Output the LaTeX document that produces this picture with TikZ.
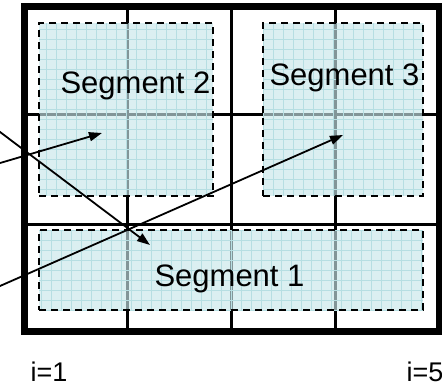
\documentclass[tikz,border=0pt]{standalone}
\usepackage{fontspec}
\setmainfont{Liberation Sans}
\usetikzlibrary{arrows.meta, positioning}
\definecolor{segfill}{RGB}{200, 230, 234}
\definecolor{segmesh}{RGB}{182, 222, 226}

\tikzset{
  frameline/.style={draw=black, line width=7pt},
  cellline/.style={draw=black, line width=3pt},
  meshline/.style={draw=segmesh, solid, line width=0.7pt},
  segbox/.style={draw=black, line width=2.2pt, dash pattern=on 7pt off 5pt, fill=segfill, fill opacity=0.65, inner sep=0pt,
    path picture={\draw[meshline] (path picture bounding box.north west) grid[step=10pt] (path picture bounding box.south east);}},
  seglabel/.style={font=\fontsize{31}{36}\selectfont, anchor=base},
  ilabel/.style={font=\fontsize{27}{32}\selectfont, anchor=base west},
  pointer/.style={-{Triangle[length=13pt, width=9pt]}, line width=1.8pt}
}

\begin{document}
\begin{tikzpicture}[x=1pt, y=-1pt]
  \useasboundingbox (0,0) rectangle (442,386);
  \clip (0,0) rectangle (442,386);

  % --- inner cell lines ---
  \foreach \cx in {127, 231, 335}
    \draw[cellline] (\cx, 6) -- (\cx, 331);
  \foreach \cy in {114, 224}
    \draw[cellline] (24, \cy) -- (439, \cy);

  % --- segments ---
  \node[segbox, minimum width=174pt, minimum height=173pt] (seg2) at (126, 109.5) {};
  \node[segbox, minimum width=160pt, minimum height=173pt] (seg3) at (343, 109.5) {};
  \node[segbox, minimum width=384pt, minimum height=80pt] (seg1) at (231, 270) {};

  % --- outer frame ---
  \node[frameline, minimum width=415pt, minimum height=325pt] (board) at (231.5, 168.5) {};

  % --- labels ---
  \node[seglabel] (lab2) at (135.5, 93) {Segment 2};
  \node[seglabel] (lab3) at (344.5, 85) {Segment 3};
  \node[seglabel] (lab1) at (229.5, 286) {Segment 1};
  \node[ilabel] (ifirst) at (27, 381) {i=1};
  \node[ilabel] (ilast) at (403, 381) {i=5};

  % --- pointers coming in from the left ---
  \coordinate (from2) at (-5, 164.5);
  \coordinate (tip2) at (102, 133);
  \coordinate (from1) at (-5, 128.2);
  \coordinate (tip1) at (150, 245);
  \coordinate (from3) at (-5, 288.2);
  \coordinate (tip3) at (343, 135);
  \draw[pointer] (from2) -- (tip2);
  \draw[pointer] (from1) -- (tip1);
  \draw[pointer] (from3) -- (tip3);
\end{tikzpicture}
\end{document}
